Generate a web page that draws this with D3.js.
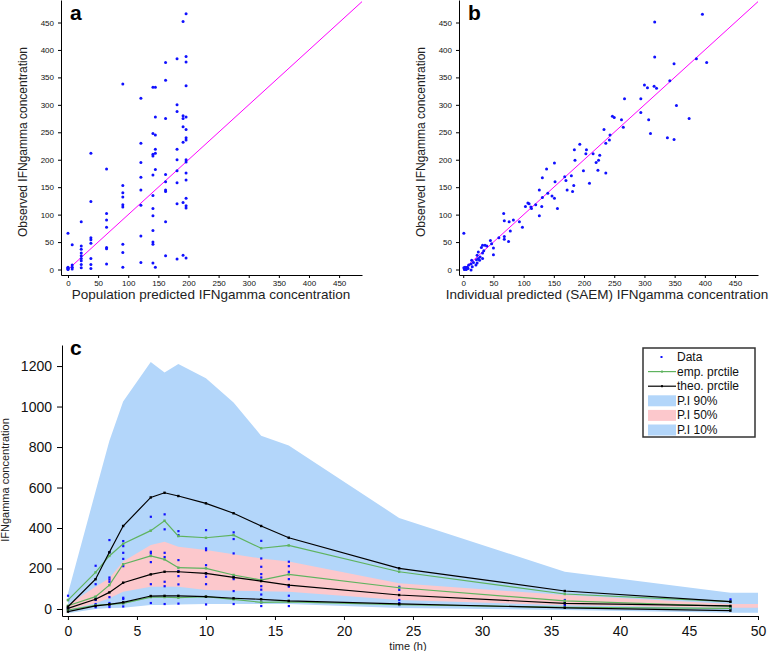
<!DOCTYPE html>
<html>
<head>
<meta charset="utf-8">
<script src="https://cdn.jsdelivr.net/npm/d3@7"></script>
<style>
  body { margin: 0; background: #fff; }
  svg { font-family: Arial, "Liberation Sans", sans-serif; }
</style>
</head>
<body>
<svg id="fig" width="778" height="651"></svg>
<script>
// ---- panel a : population prediction vs observation ----
const popPred = [0, 7, 22, 38, 64, 91, 121, 141, 145, 162, 181, 191, 196];
const popObs = [
  [66, 3, 2, 0, 1, 4],
  [45, 8, 4, 1],
  [87, 43, 37, 30, 25, 20, 16, 9, 3],
  [212, 124, 58, 54, 48, 20, 9, 2],
  [183, 102, 90, 77, 40, 38, 10],
  [338, 153, 140, 132, 118, 114, 46, 31, 4],
  [312, 230, 195, 168, 145, 117, 61, 13],
  [332, 248, 210, 207, 172, 135, 111, 98, 71, 50, 46, 12],
  [332, 278, 245, 219, 212, 182, 4],
  [377, 345, 275, 173, 160, 145, 142, 87, 25],
  [384, 300, 288, 219, 200, 180, 158, 120, 19],
  [452, 280, 275, 260, 232, 122, 26],
  [466, 388, 378, 335, 278, 255, 240, 236, 200, 196, 176, 163, 130, 116, 112, 21]
];

// ---- panel b : individual prediction vs observation ----
const indPairs = [
  [396,465],[317,451],[317,387],[349,375],[403,377],[386,384],[342,344],[300,336],
  [316,334],[305,331],[320,330],[353,299],[267,311],[294,311],[294,286],[374,275],
  [307,273],[262,273],[247,279],[250,277],[265,259],[310,248],[338,240],[349,237],
  [233,255],[243,245],[242,236],[236,230],[193,228],[184,218],[204,218],[203,211],
  [215,211],[226,208],[224,199],[220,195],[185,199],[151,194],[138,183],[223,181],
  [199,180],[236,176],[131,167],[168,169],[179,171],[170,162],[152,160],[209,157],
  [183,153],[172,145],[181,142],[126,145],[140,139],[147,134],[131,131],[151,130],
  [107,121],[109,120],[103,115],[112,114],[113,111],[120,118],[130,115],[156,111],
  [126,98],[67,102],[68,89],[83,90],[76,87],[93,87],[98,77],[78,70],[59,58],[68,60],
  [68,55],[75,51],[45,53],[50,39],[50,27],[47,47],[32,44],[36,44],[30,40],[39,43],
  [34,34],[25,32],[32,30],[23,26],[28,23],[32,20],[25,20],[22,18],[27,17],[14,17],
  [17,13],[23,12],[21,8],[13,10],[9,8],[15,5],[7,4],[13,-1],[1,66],[1,3],[2,1],
  [4,2],[2,0],[6,3],[8,2],[3,4],[5,0]
];

const scatterTicks = [0, 50, 100, 150, 200, 250, 300, 350, 400, 450];

// ---- panel c : visual predictive check ----
const times = [0, 2, 3, 4, 6, 7, 8, 10, 12, 14, 16, 24, 36, 48];
const obsByTime = [
  [66, 45, 8, 3, 2, 0, 0],
  [214, 123, 58, 45, 25, 18, 9],
  [341, 281, 156, 146, 135, 59, 30, 20, 10],
  [336, 311, 278, 248, 212, 56, 50, 30, 13],
  [456, 283, 275, 232, 123, 30],
  [468, 394, 278, 257, 135, 113, 25],
  [385, 365, 242, 188, 163, 122, 27],
  [390, 300, 291, 217, 176, 160, 123, 23],
  [379, 346, 275, 160, 148, 89, 25],
  [337, 250, 209, 173, 156, 113, 96, 72, 33, 15],
  [234, 212, 184, 148, 111, 66, 36, 15],
  [110, 95, 45, 30, 20],
  [45, 35, 28, 20, 15],
  [48, 38, 10, 5, 2]
];
const empP90  = [44, 181, 262, 322, 387, 436, 360, 352, 365, 300, 314, 184, 74, 36];
const empP50  = [16, 61, 118, 221, 262, 245, 204, 201, 168, 143, 171, 105, 40, 13];
const empP10  = [-5, 18, 23, 28, 59, 59, 56, 61, 48, 33, 35, 22, 8, 3];
const theoP90 = [11, 147, 280, 410, 551, 574, 558, 522, 473, 410, 352, 201, 89, 36];
const theoP50 = [3, 48, 82, 130, 171, 184, 184, 176, 156, 138, 118, 69, 28, 15];
const theoP10 = [-13, 15, 23, 33, 64, 65, 65, 61, 53, 48, 40, 25, 6, -8];

const bandTimes = [0, 2, 3, 4, 6, 7, 8, 10, 12, 14, 16, 24, 36, 48, 50];
const pi90Hi = [77, 580, 830, 1025, 1220, 1168, 1210, 1140, 1020, 856, 807, 450, 184, 80, 80];
const pi90Lo = [10, 60, 100, 150, 230, 240, 240, 220, 200, 180, 170, 90, 45, 15, 15];
const pi50Hi = [20, 110, 152, 234, 316, 332, 308, 291, 270, 250, 234, 127, 69, 25, 25];
const pi50Lo = [-5, 28, 53, 85, 110, 110, 110, 94, 90, 88, 85, 44, 18, 6, 6];
const pi10Hi = [10, 40, 65, 95, 125, 125, 125, 110, 105, 100, 95, 55, 25, 12, 12];
const pi10Lo = [-21, 0, 5, 6, 20, 20, 22, 25, 25, 25, 25, 5, -5, -18, -18];

const timeTicks = [0, 5, 10, 15, 20, 25, 30, 35, 40, 45, 50];
const concTicks = [0, 200, 400, 600, 800, 1000, 1200];

const legendItems = ["Data", "emp. prctile", "theo. prctile", "P.I 90%", "P.I 50%", "P.I 10%"];

const blueBand = "#b3d6fa", pinkBand = "#fcc8cc", greenLine = "#5fb35f", dotBlue = "#1010ff";

const svg = d3.select("#fig");

function scatterPanel(o) {
  const x = d3.scaleLinear().domain([o.xmin, 488]).range([o.left, o.right]);
  const y = d3.scaleLinear().domain([-10, 491]).range([275, 0]);
  const g = svg.append("g");

  g.append("g").attr("transform", "translate(0,275)")
    .call(d3.axisBottom(x).tickValues(scatterTicks).tickSize(3).tickPadding(2).tickSizeOuter(0))
    .call(a => a.selectAll("text").attr("font-size", 8).attr("fill", "#111"));
  g.append("g").attr("transform", "translate(" + o.left + ",0)")
    .call(d3.axisLeft(y).tickValues(scatterTicks).tickSize(3).tickPadding(4).tickSizeOuter(0))
    .call(a => a.selectAll("text").attr("font-size", 8).attr("fill", "#111"));

  // identity line
  g.append("line")
    .attr("x1", x(0)).attr("y1", y(0)).attr("x2", x(488)).attr("y2", y(488))
    .attr("stroke", "#f0f").attr("stroke-width", 1);

  g.selectAll("circle.pt").data(o.points).enter().append("circle")
    .attr("class", "pt")
    .attr("cx", d => x(d[0])).attr("cy", d => y(d[1]))
    .attr("r", 1.5).attr("fill", dotBlue);

  g.append("text").attr("x", o.left + 9).attr("y", 20)
    .attr("font-size", 21).attr("font-weight", "bold").text(o.tag);
  g.append("text")
    .attr("transform", "translate(" + (o.left - 34) + ",142) rotate(-90)")
    .attr("text-anchor", "middle").attr("font-size", 12).attr("fill", "#222")
    .text("Observed IFNgamma concentration");
  g.append("text").attr("x", o.xlabelX).attr("y", 299)
    .attr("text-anchor", "middle").attr("font-size", 13.5).attr("fill", "#222")
    .text(o.xlabel);
}

const popPoints = [];
popPred.forEach((p, i) => popObs[i].forEach(v => popPoints.push([p, v])));

scatterPanel({ tag: "a", left: 61, right: 362, xmin: -11.6, points: popPoints,
  xlabel: "Population predicted IFNgamma concentration", xlabelX: 211 });
scatterPanel({ tag: "b", left: 459, right: 758, xmin: -7, points: indPairs,
  xlabel: "Individual predicted (SAEM) IFNgamma concentration", xlabelX: 607 });

// ---- panel c ----
const xc = d3.scaleLinear().domain([-0.43, 50]).range([62, 758]);
const yc = d3.scaleLinear().domain([-34.6, 1304]).range([616, 345]);
const gc = svg.append("g");

function band(lo, hi, color) {
  const area = d3.area()
    .x((d, i) => xc(bandTimes[i]))
    .y0((d, i) => yc(lo[i]))
    .y1((d, i) => yc(hi[i]));
  gc.append("path").datum(bandTimes).attr("d", area).attr("fill", color);
}
band(pi90Lo, pi90Hi, blueBand);
band(pi10Lo, pi10Hi, blueBand);
band(pi50Lo, pi50Hi, pinkBand);

const obsPoints = [];
times.forEach((t, i) => obsByTime[i].forEach(v => obsPoints.push([t, v])));
gc.selectAll("rect.obs").data(obsPoints).enter().append("rect")
  .attr("class", "obs")
  .attr("x", d => xc(d[0]) - 1).attr("y", d => yc(d[1]) - 1)
  .attr("width", 2.2).attr("height", 2.2).attr("fill", dotBlue);

const line = d3.line().x((d, i) => xc(times[i])).y(d => yc(d));
function pctLine(vals, color) {
  gc.append("path").datum(vals).attr("d", line)
    .attr("fill", "none").attr("stroke", color).attr("stroke-width", 1.2);
  gc.selectAll(null).data(vals).enter().append("rect")
    .attr("x", (d, i) => xc(times[i]) - 1.2).attr("y", d => yc(d) - 1.2)
    .attr("width", 2.4).attr("height", 2.4).attr("fill", color);
}
[empP90, empP50, empP10].forEach(v => pctLine(v, greenLine));
[theoP90, theoP50, theoP10].forEach(v => pctLine(v, "#000"));

gc.append("g").attr("transform", "translate(0,616)")
  .call(d3.axisBottom(xc).tickValues(timeTicks).tickSize(4).tickPadding(6).tickSizeOuter(0))
  .call(a => a.selectAll("text").attr("font-size", 14).attr("fill", "#111"));
gc.append("g").attr("transform", "translate(62,0)")
  .call(d3.axisLeft(yc).tickValues(concTicks).tickFormat(d3.format("d"))
    .tickSize(5).tickPadding(5).tickSizeOuter(0))
  .call(a => a.selectAll("text").attr("font-size", 14).attr("fill", "#111"));

gc.append("text").attr("x", 70).attr("y", 355)
  .attr("font-size", 21).attr("font-weight", "bold").text("c");
gc.append("text").attr("transform", "translate(9,480) rotate(-90)")
  .attr("text-anchor", "middle").attr("font-size", 11).attr("fill", "#222")
  .text("IFNgamma concentration");
gc.append("text").attr("x", 408).attr("y", 650)
  .attr("text-anchor", "middle").attr("font-size", 11).attr("fill", "#222")
  .text("time (h)");

// legend
const lg = gc.append("g").attr("transform", "translate(643,348)");
lg.append("rect").attr("width", 112).attr("height", 89)
  .attr("fill", "#fff").attr("stroke", "#333").attr("stroke-width", 1.5);
legendItems.forEach((name, i) => {
  const cy = 9 + i * 14.6;
  if (i === 0) {
    lg.append("rect").attr("x", 17.5).attr("y", cy - 1).attr("width", 2).attr("height", 2).attr("fill", dotBlue);
  } else if (i < 3) {
    const c = i === 1 ? greenLine : "#000";
    lg.append("line").attr("x1", 5).attr("x2", 33).attr("y1", cy).attr("y2", cy)
      .attr("stroke", c).attr("stroke-width", 1.2);
    lg.append("rect").attr("x", 18).attr("y", cy - 1).attr("width", 2).attr("height", 2).attr("fill", c);
  } else {
    lg.append("rect").attr("x", 5).attr("y", cy - 5.5).attr("width", 28).attr("height", 11)
      .attr("fill", i === 4 ? pinkBand : blueBand);
  }
  lg.append("text").attr("x", 34).attr("y", cy + 4).attr("font-size", 12).attr("fill", "#111").text(name);
});
</script>
</body>
</html>
